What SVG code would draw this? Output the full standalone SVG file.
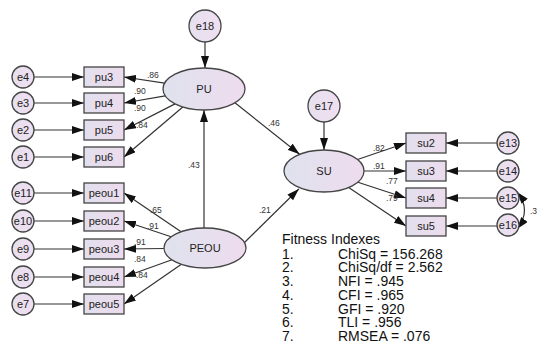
<svg xmlns="http://www.w3.org/2000/svg" width="537" height="353" viewBox="0 0 537 353">
<defs>
<linearGradient id="gE" x1="0" y1="0" x2="1" y2="0">
<stop offset="0" stop-color="#dfe2ee"/><stop offset="1" stop-color="#eedcee"/>
</linearGradient>
<linearGradient id="gB" x1="0" y1="0" x2="1" y2="0">
<stop offset="0" stop-color="#e2dfee"/><stop offset="1" stop-color="#ecdced"/>
</linearGradient>
<linearGradient id="gC" x1="0" y1="0" x2="1" y2="0">
<stop offset="0" stop-color="#e6e0ef"/><stop offset="1" stop-color="#f0dff0"/>
</linearGradient>
<marker id="ah" viewBox="0 0 12 8" refX="12" refY="4" markerWidth="12" markerHeight="8" markerUnits="userSpaceOnUse" orient="auto-start-reverse">
<path d="M0,0 L12,4 L0,8 Z" fill="#111"/>
</marker>
</defs>
<style>
text{font-family:"Liberation Sans",Arial,sans-serif;fill:#222}
.n{font-size:11px;text-anchor:middle}
.l{font-size:8.5px;fill:#333}
.f{font-size:14px;fill:#111}
.ell{fill:url(#gE);stroke:#444;stroke-width:1.3}
.box{fill:url(#gB);stroke:#444;stroke-width:1.3}
.cir{fill:url(#gC);stroke:#444;stroke-width:1.3}
#connectors line,#connectors path{stroke:#333;stroke-width:1.2;fill:none;marker-end:url(#ah)}
</style>
<rect width="537" height="353" fill="#fff"/>
<g id="connectors">
<line x1="34" y1="77" x2="84" y2="77"/>
<line x1="34" y1="103" x2="84" y2="103"/>
<line x1="34" y1="130" x2="84" y2="130"/>
<line x1="34" y1="157" x2="84" y2="157"/>
<line x1="34" y1="193" x2="84" y2="193"/>
<line x1="34" y1="221" x2="84" y2="221"/>
<line x1="34" y1="249" x2="84" y2="249"/>
<line x1="34" y1="277" x2="84" y2="277"/>
<line x1="34" y1="304" x2="84" y2="304"/>
<line x1="164.6" y1="83.1" x2="124" y2="77"/>
<line x1="165.2" y1="95.8" x2="124" y2="103"/>
<line x1="175" y1="103.9" x2="124" y2="130"/>
<line x1="182.8" y1="107" x2="124" y2="157"/>
<line x1="181.1" y1="231.8" x2="124" y2="193"/>
<line x1="171.1" y1="236.7" x2="124" y2="221"/>
<line x1="164" y1="248.5" x2="124" y2="249"/>
<line x1="172" y1="259.8" x2="124" y2="277"/>
<line x1="181.4" y1="264.3" x2="124" y2="304"/>
<line x1="204" y1="228" x2="204" y2="110"/>
<line x1="205" y1="42" x2="205" y2="68"/>
<line x1="324" y1="122" x2="324" y2="150"/>
<line x1="234" y1="102" x2="299.6" y2="154.3"/>
<line x1="244" y1="243" x2="298.8" y2="189"/>
<line x1="357.5" y1="159.5" x2="406" y2="143"/>
<line x1="364" y1="171" x2="406" y2="171"/>
<line x1="357.9" y1="182.2" x2="406" y2="198"/>
<line x1="348.7" y1="187.5" x2="406" y2="226"/>
<line x1="497" y1="143" x2="446" y2="143"/>
<line x1="497" y1="171" x2="446" y2="171"/>
<line x1="497" y1="198" x2="446" y2="198"/>
<line x1="497" y1="226" x2="446" y2="226"/>
<path d="M517,192 Q532,210 517,229" style="marker-start:url(#ah)"/>
</g>
<g id="labels">
<text class="l" x="147" y="78">.86</text>
<text class="l" x="134" y="94">.90</text>
<text class="l" x="134" y="111">.90</text>
<text class="l" x="136" y="128">.84</text>
<text class="l" x="150" y="213">.65</text>
<text class="l" x="147" y="229">.91</text>
<text class="l" x="134" y="245">.91</text>
<text class="l" x="134" y="262">.84</text>
<text class="l" x="136" y="278">.84</text>
<text class="l" x="188" y="168">.43</text>
<text class="l" x="259" y="213">.21</text>
<text class="l" x="268" y="126">.46</text>
<text class="l" x="373" y="151">.82</text>
<text class="l" x="373" y="169">.91</text>
<text class="l" x="386" y="184">.77</text>
<text class="l" x="386" y="201">.79</text>
<text class="l" x="530" y="214">.3</text>
</g>
<g id="e1"><circle class="cir" cx="23" cy="157" r="11"/><text class="n" x="23" y="161">e1</text></g>
<g id="e2"><circle class="cir" cx="23" cy="130" r="11"/><text class="n" x="23" y="134">e2</text></g>
<g id="e3"><circle class="cir" cx="23" cy="103" r="11"/><text class="n" x="23" y="107">e3</text></g>
<g id="e4"><circle class="cir" cx="23" cy="77" r="11"/><text class="n" x="23" y="81">e4</text></g>
<g id="e11"><circle class="cir" cx="23" cy="193" r="11"/><text class="n" x="23" y="197">e11</text></g>
<g id="e10"><circle class="cir" cx="23" cy="221" r="11"/><text class="n" x="23" y="225">e10</text></g>
<g id="e9"><circle class="cir" cx="23" cy="249" r="11"/><text class="n" x="23" y="253">e9</text></g>
<g id="e8"><circle class="cir" cx="23" cy="277" r="11"/><text class="n" x="23" y="281">e8</text></g>
<g id="e7"><circle class="cir" cx="23" cy="304" r="11"/><text class="n" x="23" y="308">e7</text></g>
<g id="pu3"><rect class="box" x="84" y="67" width="40" height="20"/><text class="n" x="104" y="81">pu3</text></g>
<g id="pu4"><rect class="box" x="84" y="93" width="40" height="20"/><text class="n" x="104" y="107">pu4</text></g>
<g id="pu5"><rect class="box" x="84" y="120" width="40" height="20"/><text class="n" x="104" y="134">pu5</text></g>
<g id="pu6"><rect class="box" x="84" y="147" width="40" height="20"/><text class="n" x="104" y="161">pu6</text></g>
<g id="peou1"><rect class="box" x="84" y="183" width="40" height="20"/><text class="n" x="104" y="197">peou1</text></g>
<g id="peou2"><rect class="box" x="84" y="211" width="40" height="20"/><text class="n" x="104" y="225">peou2</text></g>
<g id="peou3"><rect class="box" x="84" y="239" width="40" height="20"/><text class="n" x="104" y="253">peou3</text></g>
<g id="peou4"><rect class="box" x="84" y="267" width="40" height="20"/><text class="n" x="104" y="281">peou4</text></g>
<g id="peou5"><rect class="box" x="84" y="294" width="40" height="20"/><text class="n" x="104" y="308">peou5</text></g>
<g id="e18"><circle class="cir" cx="205" cy="26" r="16"/><text class="n" x="205" y="30">e18</text></g>
<g id="PU"><ellipse class="ell" cx="204" cy="89" rx="41" ry="21"/><text class="n" x="204" y="93">PU</text></g>
<g id="PEOU"><ellipse class="ell" cx="205" cy="248" rx="41" ry="20"/><text class="n" x="205" y="252">PEOU</text></g>
<g id="e17"><circle class="cir" cx="324" cy="106" r="16"/><text class="n" x="324" y="110">e17</text></g>
<g id="SU"><ellipse class="ell" cx="324" cy="171" rx="40" ry="21"/><text class="n" x="324" y="175">SU</text></g>
<g id="su2"><rect class="box" x="406" y="133" width="40" height="20"/><text class="n" x="426" y="147">su2</text></g>
<g id="su3"><rect class="box" x="406" y="161" width="40" height="20"/><text class="n" x="426" y="175">su3</text></g>
<g id="su4"><rect class="box" x="406" y="188" width="40" height="20"/><text class="n" x="426" y="202">su4</text></g>
<g id="su5"><rect class="box" x="406" y="216" width="40" height="20"/><text class="n" x="426" y="230">su5</text></g>
<g id="e13"><circle class="cir" cx="508" cy="143" r="11"/><text class="n" x="508" y="147">e13</text></g>
<g id="e14"><circle class="cir" cx="508" cy="171" r="11"/><text class="n" x="508" y="175">e14</text></g>
<g id="e15"><circle class="cir" cx="508" cy="198" r="11"/><text class="n" x="508" y="202">e15</text></g>
<g id="e16"><circle class="cir" cx="508" cy="225" r="11"/><text class="n" x="508" y="229">e16</text></g>
<g id="fitness">
<text class="f" x="282" y="244">Fitness Indexes</text>
<text class="f" x="282" y="259">1.</text><text class="f" x="338" y="259">ChiSq = 156.268</text>
<text class="f" x="282" y="272">2.</text><text class="f" x="338" y="272">ChiSq/df = 2.562</text>
<text class="f" x="282" y="286">3.</text><text class="f" x="338" y="286">NFI = .945</text>
<text class="f" x="282" y="300">4.</text><text class="f" x="338" y="300">CFI = .965</text>
<text class="f" x="282" y="314">5.</text><text class="f" x="338" y="314">GFI = .920</text>
<text class="f" x="282" y="327">6.</text><text class="f" x="338" y="327">TLI = .956</text>
<text class="f" x="282" y="341">7.</text><text class="f" x="338" y="341">RMSEA = .076</text>
</g>
</svg>
